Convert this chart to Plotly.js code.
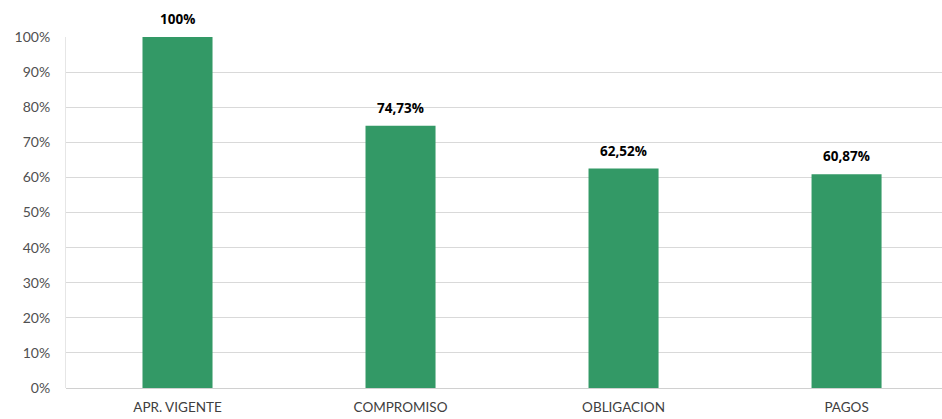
<!DOCTYPE html>
<html>
<head>
<meta charset="utf-8">
<script src="https://cdn.plot.ly/plotly-3.0.1.min.js"></script>
<style>html,body{margin:0;padding:0;background:#fff;}#chart{width:942px;height:419px;}</style>
</head>
<body>
<div id="chart"></div>
<script>
const categories = ["APR. VIGENTE", "COMPROMISO", "OBLIGACION", "PAGOS"];
const values = [1.0, 0.7473, 0.6252, 0.6087];
const valueLabels = ["100%", "74,73%", "62,52%", "60,87%"];
const yTickValues = [0, 0.1, 0.2, 0.3, 0.4, 0.5, 0.6, 0.7, 0.8, 0.9, 1.0];
const yTickLabels = ["0%", "10%", "20%", "30%", "40%", "50%", "60%", "70%", "80%", "90%", "100%"];

const trace = {
  type: "bar",
  x: categories,
  y: values,
  marker: {color: "#339966"},
  hoverinfo: "skip"
};

const labelAnnotations = categories.map((c, i) => ({
  x: c,
  y: values[i],
  xref: "x",
  yref: "y",
  text: valueLabels[i],
  showarrow: false,
  yanchor: "bottom",
  yshift: 7,
  font: {family: "'Open Sans', Lato, sans-serif", size: 13.5, color: "#000000", weight: "bold"}
}));

const layout = {
  width: 942,
  height: 419,
  margin: {l: 66, r: 0, t: 37, b: 31},
  paper_bgcolor: "#ffffff",
  plot_bgcolor: "#ffffff",
  showlegend: false,
  bargap: 0.686,
  font: {family: "Lato, 'Open Sans', sans-serif", size: 12, color: "#505050"},
  annotations: labelAnnotations,
  xaxis: {
    type: "category",
    range: [-0.5, 3.428],
    showgrid: false,
    showline: false,
    zeroline: false,
    ticks: "",
    ticklabelstandoff: 9,
    tickfont: {size: 13.5, color: "#404040"},
    automargin: false
  },
  yaxis: {
    range: [0, 1],
    tickvals: yTickValues,
    ticktext: yTickLabels,
    showgrid: true,
    gridcolor: "#d9d9d9",
    gridwidth: 1,
    zeroline: true,
    zerolinecolor: "#d0d0d0",
    zerolinewidth: 1,
    showline: true,
    linecolor: "#e6e6e6",
    linewidth: 1,
    ticks: "",
    ticklabelstandoff: 12,
    tickfont: {size: 14, color: "#505050"},
    automargin: false
  }
};

Plotly.newPlot("chart", [trace], layout, {displayModeBar: false, staticPlot: true});
</script>
</body>
</html>
